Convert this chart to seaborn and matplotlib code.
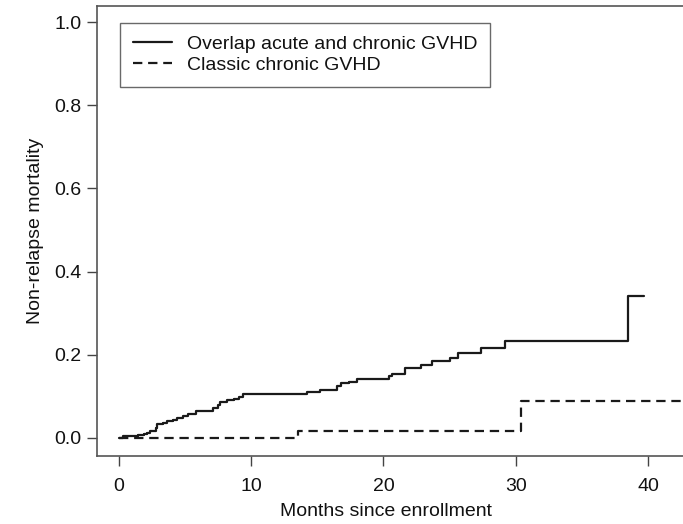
import matplotlib
matplotlib.use("Agg")
import matplotlib.pyplot as plt
import seaborn as sns
import pandas as pd
from matplotlib import font_manager

# Data
overlap_months = [0, 0.3, 1.45, 1.9, 2.15, 2.35, 2.8, 2.9, 3.3, 3.65, 4.05, 4.4, 4.8, 5.2,
                  5.8, 7.1, 7.45, 7.65, 8.2, 8.7, 9.1, 9.4, 14.2, 15.2, 16.5, 16.8, 17.4,
                  18.0, 20.45, 20.65, 21.6, 22.85, 23.7, 25.05, 25.6, 27.35, 29.2, 38.5, 39.7]
overlap_nrm = [0, 0.004, 0.006, 0.009, 0.013, 0.018, 0.025, 0.033, 0.037, 0.040, 0.044, 0.049,
               0.052, 0.057, 0.066, 0.071, 0.079, 0.087, 0.091, 0.094, 0.098, 0.106, 0.110,
               0.115, 0.125, 0.131, 0.135, 0.141, 0.150, 0.155, 0.168, 0.176, 0.184, 0.193,
               0.204, 0.216, 0.232, 0.342, 0.342]
classic_months = [0, 13.5, 30.4, 43.5]
classic_nrm = [0, 0.018, 0.088, 0.088]
series_labels = ["Overlap acute and chronic GVHD", "Classic chronic GVHD"]
x_ticks = [0, 10, 20, 30, 40]
y_ticks = [0.0, 0.2, 0.4, 0.6, 0.8, 1.0]

sns.set_theme(style="white")
names = {f.name for f in font_manager.fontManager.ttflist}
fam = "Liberation Sans Narrow" if "Liberation Sans Narrow" in names else "Liberation Sans"
plt.rcParams["font.family"] = [fam, "DejaVu Sans"]

df_o = pd.DataFrame({"m": overlap_months, "v": overlap_nrm})
df_c = pd.DataFrame({"m": classic_months, "v": classic_nrm})

W, H = 683, 524
fig = plt.figure(figsize=(W / 100, H / 100), dpi=100)
left, right, top, bottom = 97, 690, 6, 456
ax = fig.add_axes([left / W, (H - bottom) / H, (right - left) / W, (bottom - top) / H])

sns.lineplot(data=df_o, x="m", y="v", ax=ax, drawstyle="steps-post", color="#1a1a1a",
             linewidth=1.6, estimator=None, sort=False, label=series_labels[0])
sns.lineplot(data=df_c, x="m", y="v", ax=ax, drawstyle="steps-post", color="#1a1a1a",
             linewidth=1.6, estimator=None, sort=False, dashes=False, label=series_labels[1])
ax.lines[1].set_dashes((4.2, 2.6))

ax.set_xlim(-1.667, 43.18)
ax.set_ylim(-0.0433, 1.0385)
ax.set_xticks(x_ticks)
ax.set_yticks(y_ticks)
ax.set_yticklabels([f"{t:.1f}" for t in y_ticks])
ax.tick_params(axis="both", which="major", length=7.5, width=1.0, color="#444444",
               labelsize=14, labelcolor="#111111", direction="out")
ax.tick_params(axis="x", pad=8)
ax.tick_params(axis="y", pad=3.5)
ax.xaxis.set_ticks_position("bottom")
ax.yaxis.set_ticks_position("left")

for s in ["left", "bottom", "top"]:
    ax.spines[s].set_visible(True)
    ax.spines[s].set_color("#555555")
    ax.spines[s].set_linewidth(1.2)
ax.spines["right"].set_visible(False)

ax.set_xlabel("Months since enrollment", fontsize=14, color="#111111")
ax.set_ylabel("Non-relapse mortality", fontsize=14, color="#111111")
ax.xaxis.set_label_coords(0.487, -0.105)
ax.yaxis.set_label_coords(-0.09, 0.5)

leg = ax.legend(loc="upper left", bbox_to_anchor=((120 - left) / (right - left), 1 - (22.5 - top) / (bottom - top)),
                frameon=True, fancybox=False, fontsize=14, handlelength=2.0,
                borderpad=0.65, labelspacing=0.2, handletextpad=0.8, borderaxespad=0)
leg.get_frame().set_edgecolor("#444444")
leg.get_frame().set_linewidth(1.0)
for t in leg.get_texts():
    t.set_color("#111111")

fig.savefig("out.png", dpi=100)
